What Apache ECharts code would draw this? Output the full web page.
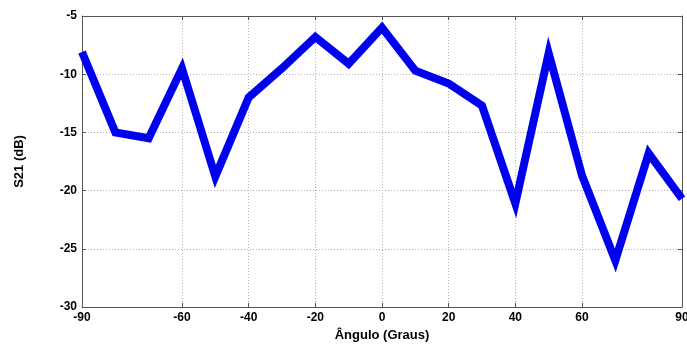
<!DOCTYPE html>
<html><head><meta charset="utf-8">
<script src="https://cdn.jsdelivr.net/npm/echarts@6/dist/echarts.min.js"></script>
<style>html,body{margin:0;padding:0;background:#fff}#c{width:687px;height:345px}</style>
</head><body><div id="c"></div>
<script>
const angles = [-90,-80,-70,-60,-50,-40,-30,-20,-10,0,10,20,30,40,50,60,70,80,90];
const s21 = [-8.1,-15.0,-15.5,-9.5,-18.8,-12.0,-9.5,-6.8,-9.1,-6.0,-9.7,-10.8,-12.7,-21.1,-8.2,-18.7,-26.0,-16.8,-20.7];
const xTicks = [-90,-60,-40,-20,0,20,40,60,90];
const yTicks = [-30,-25,-20,-15,-10,-5];

const font = 'Liberation Sans, Arial, sans-serif';
const axisCol = '#555';
const chart = echarts.init(document.getElementById('c'));
const data = angles.map((a,i)=>[a,s21[i]]);
chart.setOption({
  animation:false,
  grid:{left:82,right:5,top:16,bottom:38,outerBoundsMode:'none',containLabel:false},
  xAxis:[{
    type:'value',min:-90,max:90,position:'bottom',
    name:'Ângulo (Graus)',nameLocation:'middle',nameGap:20,
    nameTextStyle:{fontFamily:font,fontWeight:'bold',fontSize:13,color:'#000'},
    axisLine:{show:true,onZero:false,lineStyle:{color:axisCol,width:1}},
    axisTick:{show:true,inside:true,length:4,customValues:xTicks,lineStyle:{color:axisCol}},
    axisLabel:{customValues:xTicks,fontFamily:font,fontWeight:'bold',fontSize:12,color:'#000',margin:5},
    splitLine:{show:true,lineStyle:{color:'#b0b0b0',type:[1,2],width:1}}
  },{
    type:'value',min:-90,max:90,position:'top',
    axisLine:{show:true,onZero:false,lineStyle:{color:axisCol,width:1}},
    axisTick:{show:true,inside:true,length:4,customValues:xTicks,lineStyle:{color:axisCol}},
    axisLabel:{show:false},splitLine:{show:false}
  }],
  yAxis:[{
    type:'value',min:-30,max:-5,interval:5,position:'left',
    name:'S21 (dB)',nameLocation:'middle',nameGap:56,nameRotate:90,
    nameTextStyle:{fontFamily:font,fontWeight:'bold',fontSize:13,color:'#000'},
    axisLine:{show:true,onZero:false,lineStyle:{color:axisCol,width:1}},
    axisTick:{show:true,inside:true,length:4,lineStyle:{color:axisCol}},
    axisLabel:{fontFamily:font,fontWeight:'bold',fontSize:12,color:'#000',margin:5},
    splitLine:{show:true,lineStyle:{color:'#b0b0b0',type:[1,2],width:1}}
  },{
    type:'value',min:-30,max:-5,interval:5,position:'right',
    axisLine:{show:true,onZero:false,lineStyle:{color:axisCol,width:1}},
    axisTick:{show:true,inside:true,length:4,lineStyle:{color:axisCol}},
    axisLabel:{show:false},splitLine:{show:false}
  }],
  series:[{
    type:'line',data:data,xAxisIndex:0,yAxisIndex:0,
    symbol:'none',lineStyle:{color:'#0000f0',width:8,join:'miter'},
    clip:true
  }]
});
</script></body></html>
